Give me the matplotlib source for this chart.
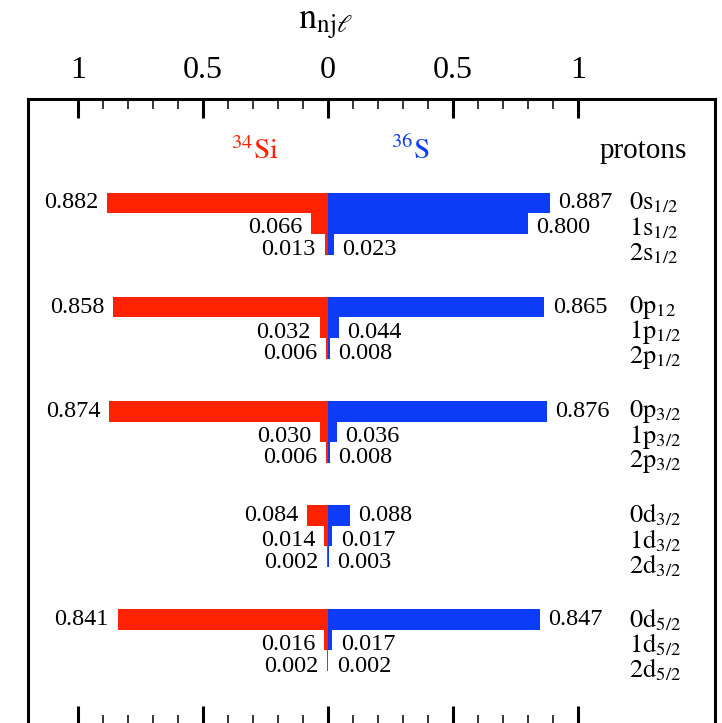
import matplotlib

matplotlib.use("Agg")
import matplotlib.pyplot as plt
from matplotlib.ticker import FixedLocator

plt.rcParams["font.family"] = ["Liberation Serif", "DejaVu Serif"]
plt.rcParams["mathtext.fontset"] = "stix"

# occupation numbers n_njl, three radial states (n = 0, 1, 2) per shell
shells = ["s_{1/2}", "p_{12}", "p_{3/2}", "d_{3/2}", "d_{5/2}"]
shells_sub = ["s_{1/2}", "p_{1/2}", "p_{3/2}", "d_{3/2}", "d_{5/2}"]
si34 = [
    [0.882, 0.066, 0.013],
    [0.858, 0.032, 0.006],
    [0.874, 0.030, 0.006],
    [0.084, 0.014, 0.002],
    [0.841, 0.016, 0.002],
]
s36 = [
    [0.887, 0.800, 0.023],
    [0.865, 0.044, 0.008],
    [0.876, 0.036, 0.008],
    [0.088, 0.017, 0.003],
    [0.847, 0.017, 0.002],
]
tick_pos = [-1, -0.5, 0, 0.5, 1]
tick_txt = ["1", "0.5", "0", "0.5", "1"]

RED = "#ff2200"
BLUE = "#0d3cf8"
GROUP_STEP = 5
LABEL_ROWS = [0.0, 1.2, 2.25]
ORB_ROWS = [0.0, 1.22, 2.44]

W, H = 722, 723
fig = plt.figure(figsize=(W / 100, H / 100), dpi=100)
# frame in pixels: left 28, right 715, top 98.5, bottom just past the edge
ax = fig.add_axes([28 / W, 1 - 725 / H, (715 - 28) / W, (725 - 98.5) / H])

for g in range(len(shells)):
    for r in range(3):
        y = GROUP_STEP * g + r
        ax.barh(y, -si34[g][r], height=1.0, left=0, color=RED, linewidth=0)
        ax.barh(y, s36[g][r], height=1.0, left=0, color=BLUE, linewidth=0)
        ly = GROUP_STEP * g + LABEL_ROWS[r]
        ax.text(-si34[g][r] - 0.035, ly, f"{si34[g][r]:.3f}", ha="right",
                va="center", fontsize=17.5)
        ax.text(s36[g][r] + 0.035, ly, f"{s36[g][r]:.3f}", ha="left",
                va="center", fontsize=17.5)
        name = shells[g] if r == 0 else shells_sub[g]
        oy = GROUP_STEP * g + ORB_ROWS[r]
        ax.text(1.205, oy, rf"$\mathrm{{{r}{name[0]}}}_{{{name[3:-1]}}}$",
                ha="left", va="center", fontsize=19)

ax.text(-0.29, -2.5, r"$^{34}\mathrm{Si}$", color=RED, ha="center",
        va="center", fontsize=21)
ax.text(0.33, -2.5, r"$^{36}\mathrm{S}$", color=BLUE, ha="center",
        va="center", fontsize=21)
ax.text(1.26, -2.5, "protons", ha="center", va="center", fontsize=21)

ax.set_xlim(-1.199, 1.549)
ax.set_ylim(25.08, -5.02)
ax.xaxis.set_major_locator(FixedLocator(tick_pos))
# minor ticks only between the two unit marks
ax.xaxis.set_minor_locator(FixedLocator([x / 10 for x in range(-10, 11)]))
ax.set_xticklabels(tick_txt)
ax.set_yticks([])
ax.tick_params(axis="x", which="both", direction="in", top=True, bottom=True,
               labeltop=True, labelbottom=False, labelsize=23)
ax.tick_params(axis="x", which="major", length=13.5, width=2.2, pad=10)
ax.tick_params(axis="x", which="minor", length=7, width=1.1)
for sp in ax.spines.values():
    sp.set_linewidth(2.2)

fig.text(325 / W, 1 - 29 / H, r"$\mathrm{n}_{\mathrm{nj}\ell}$", ha="center",
         va="baseline", fontsize=26)

fig.savefig("out.png", dpi=100)
